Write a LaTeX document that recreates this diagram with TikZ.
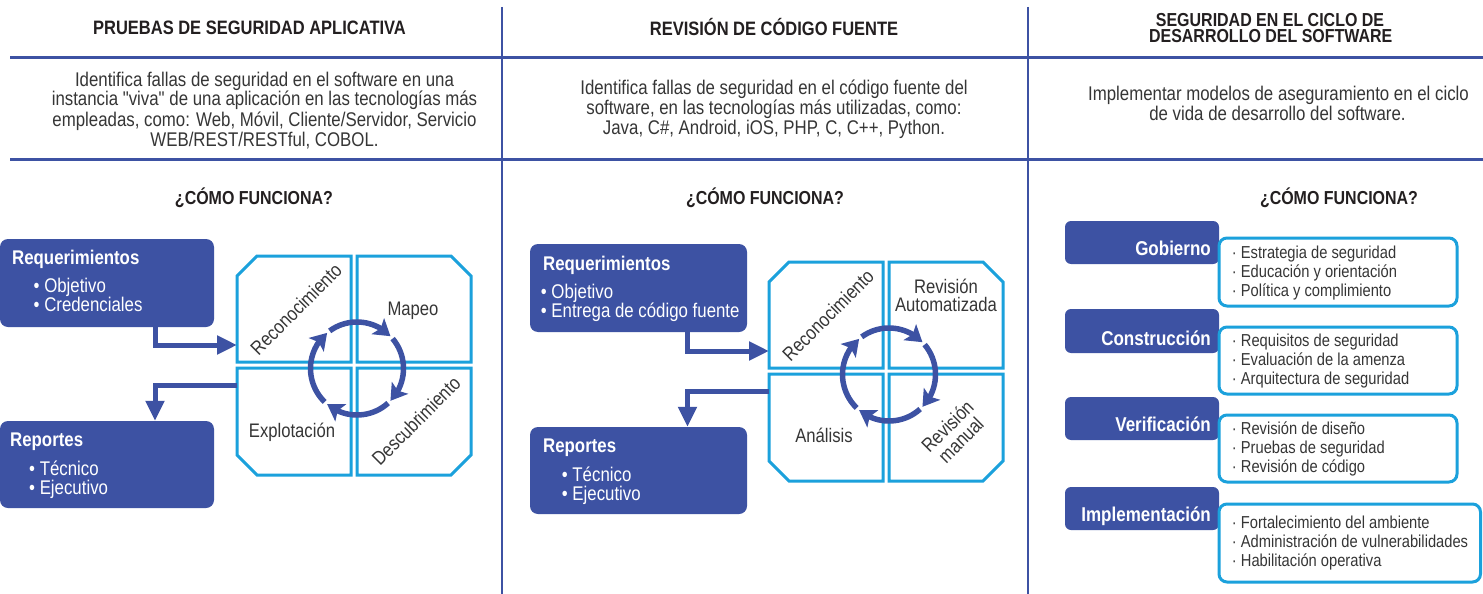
\documentclass[tikz,border=0pt]{standalone}
\usepackage{fontspec}
\setmainfont{Liberation Sans}[FakeStretch=0.85]
\newfontfamily\nolig{Liberation Sans}[FakeStretch=0.85]
\usetikzlibrary{arrows.meta,bending}
\definecolor{dblue}{HTML}{3D52A3}
\definecolor{lcyan}{HTML}{1BA1DC}
\definecolor{txt}{HTML}{363636}
\definecolor{hdr}{HTML}{231F20}
\newcommand{\quadset}{%
  \path[quadbox] (257,256) -- (351,256) -- (351,362) -- (237,362) -- (237,276) -- cycle;
  \path[quadbox] (357,256) -- (451,256) -- (471,276) -- (471,362) -- (357,362) -- cycle;
  \path[quadbox] (237,368) -- (351,368) -- (351,475) -- (257,475) -- (237,455) -- cycle;
  \path[quadbox] (357,368) -- (471,368) -- (471,455) -- (451,475) -- (357,475) -- cycle;
  \begin{scope}[shift={(357,368.5)},yscale=-1]
    \draw[circarrow] (226:46.5) arc[start angle=226,end angle=130,radius=46.5];
    \draw[circarrow] (126:46.5) arc[start angle=126,end angle=44,radius=46.5];
    \draw[circarrow] (40:46.5) arc[start angle=40,end angle=-44,radius=46.5];
    \draw[circarrow] (-48:46.5) arc[start angle=-48,end angle=-130,radius=46.5];
  \end{scope}}
\begin{document}
\begin{tikzpicture}[x=1pt,y=-1pt,
  sepline/.style={draw=dblue,line width=2.7pt},
  quadbox/.style={draw=lcyan,fill=white,line width=3pt,line join=miter},
  circarrow/.style={draw=dblue,line width=5.5pt,-{Stealth[length=16pt,width=20pt,inset=3.5pt]}},
  flow/.style={draw=dblue,line width=5pt,-{Triangle[length=20pt,width=18pt]}},
  bluebox/.style={fill=dblue,rounded corners=8pt,inner sep=0pt,draw=none},
  phasebox/.style={fill=dblue,rounded corners=6pt,inner sep=0pt,draw=none,minimum width=154pt},
  listbox/.style={draw=lcyan,fill=white,line width=3pt,rounded corners=8pt,inner sep=0pt},
  hdrtxt/.style={font=\bfseries\fontsize{19.4}{15}\selectfont,text=hdr,inner sep=0pt,anchor=base},
  hdrtxtS/.style={font=\bfseries\fontsize{18.8}{16}\selectfont,text=hdr,inner sep=0pt,anchor=base},
  desc/.style={font=\fontsize{19.8}{20}\selectfont,text=txt,inner sep=0pt,anchor=base},
  how/.style={font=\bfseries\fontsize{18.8}{20}\selectfont,text=hdr,inner sep=0pt,anchor=base},
  boxtitle/.style={font=\bfseries\fontsize{19.8}{20}\selectfont,text=white,inner sep=0pt,anchor=base west},
  boxitem/.style={font=\fontsize{19.8}{20}\selectfont,text=white,inner sep=0pt,anchor=base west},
  qlabel/.style={font=\fontsize{19.6}{19}\selectfont,text=txt,inner sep=0pt},
  phase/.style={font=\bfseries\fontsize{20}{20}\selectfont,text=white,inner sep=0pt,anchor=base east},
  item/.style={font=\fontsize{17.3}{19}\selectfont,text=txt,inner sep=0pt,anchor=base west}
]
\useasboundingbox[fill=white] (0,0) rectangle (1483,594);

% separators
\draw[sepline] (10,57.5) -- (1483,57.5);
\draw[sepline] (10,159.5) -- (1483,159.5);
\draw[sepline] (502,7) -- (502,594);
\draw[sepline] (1028,7) -- (1028,594);

% headers
\node[hdrtxt] (h1) at (249.5,35) {PRUEBAS DE SEGURIDAD APLICATIVA};
\node[hdrtxt] (h2) at (774,36) {REVISIÓN DE CÓDIGO FUENTE};
\node[hdrtxtS] (h3a) at (1270,26.7) {SEGURIDAD EN EL CICLO DE};
\node[hdrtxtS] (h3b) at (1270.7,42.7) {DESARROLLO DEL SOFTWARE};

% descriptions
\node[desc] (d1a) at (264.5,86) {Identifica fallas de seguridad en el software en una};
\node[desc] (d1b) at (264.5,106) {instancia {\nolig"}viva{\nolig"} de una aplicación en las tecnologías más};
\node[desc] (d1c) at (264.5,126) {empleadas, como: Web, Móvil, Cliente/Servidor, Servicio};
\node[desc] (d1d) at (264.5,146) {WEB/REST/RESTful, COBOL.};
\node[desc] (d2a) at (774,94.3) {Identifica fallas de seguridad en el código fuente del};
\node[desc] (d2b) at (774,114.3) {software, en las tecnologías más utilizadas, como:};
\node[desc] (d2c) at (774,134.3) {Java, C\#, Android, iOS, PHP, C, C++, Python.};
\node[desc] (d3a) at (1278.5,100) {Implementar modelos de aseguramiento en el ciclo};
\node[desc] (d3b) at (1277.5,120) {de vida de desarrollo del software.};

% how it works
\node[how] (how1) at (254,204) {¿CÓMO FUNCIONA?};
\node[how] (how2) at (765,204) {¿CÓMO FUNCIONA?};
\node[how] (how3) at (1339,204) {¿CÓMO FUNCIONA?};

% quadrant diagrams
\quadset
\begin{scope}[shift={(532,6)}]
\quadset
\end{scope}

% left diagram boxes
\node[bluebox,minimum width=214pt,minimum height=88pt] (req1) at (107,283) {};
\node[bluebox,minimum width=214pt,minimum height=87pt] (rep1) at (107,464.5) {};
\node[boxtitle] (req1t) at (12,264) {Requerimientos};
\node[boxitem] (req1a) at (33.5,292.5) {• Objetivo};
\node[boxitem] (req1b) at (33.5,311.5) {• Credenciales};
\node[boxtitle] (rep1t) at (10,446.7) {Reportes};
\node[boxitem] (rep1a) at (29,475.5) {• Técnico};
\node[boxitem] (rep1b) at (29,494.7) {• Ejecutivo};

% middle diagram boxes
\node[bluebox,minimum width=217pt,minimum height=88pt] (req2) at (638.5,288) {};
\node[bluebox,minimum width=217pt,minimum height=87pt] (rep2) at (638.5,470.5) {};
\node[boxtitle] (req2t) at (543,270) {Requerimientos};
\node[boxitem] (req2a) at (540.7,298.5) {• Objetivo};
\node[boxitem] (req2b) at (540.7,317.5) {• Entrega de código fuente};
\node[boxtitle] (rep2t) at (543,452.7) {Reportes};
\node[boxitem] (rep2a) at (561.7,481.5) {• Técnico};
\node[boxitem] (rep2b) at (561.7,500.7) {• Ejecutivo};

% flow connectors
\coordinate (a1x) at (155,0);
\coordinate (q1in) at (237,345);
\coordinate (q1out) at (237,385);
\coordinate (a2x) at (687.5,0);
\coordinate (q2in) at (769,351);
\coordinate (q2out) at (769,391);
\draw[flow] (req1.south -| a1x) |- (q1in);
\draw[flow] (q1out) -| (rep1.north -| a1x);
\draw[flow] (req2.south -| a2x) |- (q2in);
\draw[flow] (q2out) -| (rep2.north -| a2x);

% quadrant labels left
\node[qlabel,rotate=45] (l1a) at (296,309) {Reconocimiento};
\node[qlabel,anchor=base] (l1b) at (413,315) {Mapeo};
\node[qlabel,anchor=base] (l1c) at (292,437) {Explotación};
\node[qlabel,rotate=45] (l1d) at (416,421) {Descubrimiento};

% quadrant labels middle
\node[qlabel,rotate=45] (l2a) at (828,315) {Reconocimiento};
\node[qlabel,anchor=base] (l2b1) at (946,293.3) {Revisión};
\node[qlabel,anchor=base] (l2b2) at (946,311.7) {Automatizada};
\node[qlabel,anchor=base] (l2c) at (824,442) {Análisis};
\node[qlabel,rotate=45,align=center] (l2d) at (954,433) {Revisión\\manual};

% right column
\node[phasebox,minimum height=43pt] (ph1) at (1142,242.5) {};
\node[phasebox,minimum height=44pt] (ph2) at (1142,331) {};
\node[phasebox,minimum height=43pt] (ph3) at (1142,418.5) {};
\node[phasebox,minimum height=43pt] (ph4) at (1142,508.5) {};
\node[listbox,minimum width=238pt,minimum height=68pt] (lb1) at (1338,272) {};
\node[listbox,minimum width=238pt,minimum height=67pt] (lb2) at (1338,360.5) {};
\node[listbox,minimum width=238pt,minimum height=67pt] (lb3) at (1338,448.5) {};
\node[listbox,minimum width=261.5pt,minimum height=78pt] (lb4) at (1349.75,543) {};
\node[phase] (ph1t) at (1211,255.7) {Gobierno};
\node[phase] (ph2t) at (1211,345) {Construcción};
\node[phase] (ph3t) at (1211,431.7) {Verificación};
\node[phase] (ph4t) at (1211,521.7) {Implementación};

\node[item] (i1a) at (1231.7,258.3) {· Estrategia de seguridad};
\node[item] (i1b) at (1231.7,277.3) {· Educación y orientación};
\node[item] (i1c) at (1231.7,296.3) {· Política y complimiento};
\node[item] (i2a) at (1231.7,346.7) {· Requisitos de seguridad};
\node[item] (i2b) at (1231.7,365.7) {· Evaluación de la amenza};
\node[item] (i2c) at (1231.7,384.7) {· Arquitectura de seguridad};
\node[item] (i3a) at (1231.7,434) {· Revisión de diseño};
\node[item] (i3b) at (1231.7,453) {· Pruebas de seguridad};
\node[item] (i3c) at (1231.7,472) {· Revisión de código};
\node[item] (i4a) at (1231.7,528.3) {· Fortalecimiento del ambiente};
\node[item] (i4b) at (1231.7,547.3) {· Administración de vulnerabilidades};
\node[item] (i4c) at (1231.7,566.3) {· Habilitación operativa};
\end{tikzpicture}
\end{document}
